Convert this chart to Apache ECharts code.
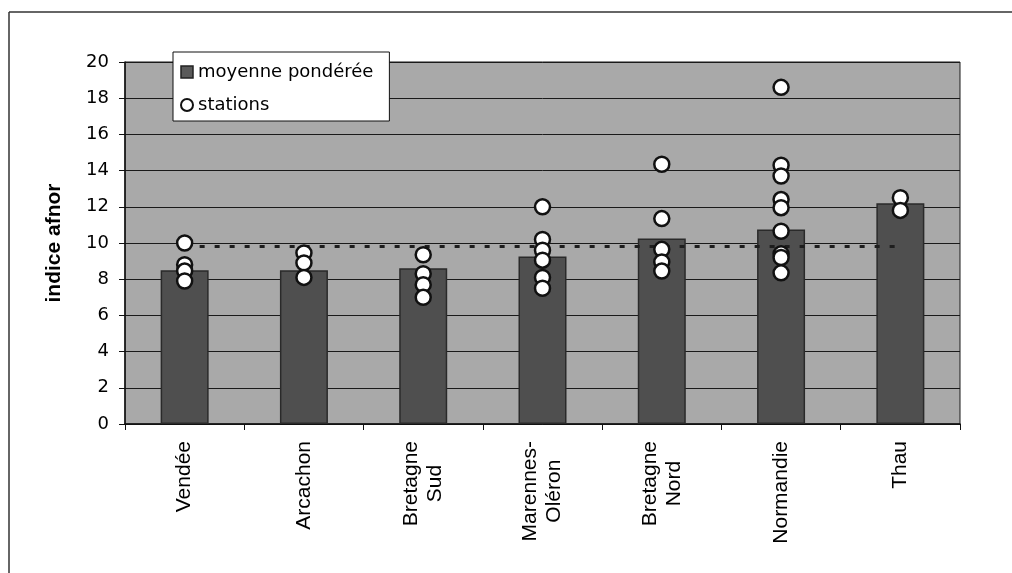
<!DOCTYPE html>
<html>
<head>
<meta charset="utf-8">
<script src="https://cdn.jsdelivr.net/npm/echarts@6/dist/echarts.min.js"></script>
<style>
html,body{margin:0;padding:0;background:#fff;}
#chart{width:1012px;height:573px;}
</style>
</head>
<body>
<div id="chart"></div>
<script>
// ---- data ----
const categories = ['Vendée', 'Arcachon', 'Bretagne\nSud', 'Marennes-\nOléron', 'Bretagne\nNord', 'Normandie', 'Thau'];
const yTicks = [0, 2, 4, 6, 8, 10, 12, 14, 16, 18, 20];
const moyennePonderee = [8.5, 8.5, 8.6, 9.25, 10.25, 10.75, 12.2];
const referenceLine = [9.8, 9.8, 9.8, 9.8, 9.8, 9.8, 9.8];
const stVendee = [10.0, 8.8, 8.45, 7.9];
const stArcachon = [9.45, 8.9, 8.1];
const stBretagneSud = [9.35, 8.3, 7.7, 7.0];
const stMarennes = [12.0, 10.2, 9.6, 9.05, 8.1, 7.5];
const stBretagneNord = [14.35, 11.35, 9.65, 8.95, 8.45];
const stNormandie = [18.6, 14.3, 13.7, 12.4, 11.95, 10.65, 9.4, 9.2, 8.35];
const stThau = [12.5, 11.8];

const stationGroups = [stVendee, stArcachon, stBretagneSud, stMarennes, stBretagneNord, stNormandie, stThau];
const stationData = [];
stationGroups.forEach((g, i) => g.forEach(v => stationData.push([categories[i], v])));

const chart = echarts.init(document.getElementById('chart'), null, {renderer: 'canvas'});
chart.setOption({
  backgroundColor: '#ffffff',
  animation: false,
  grid: {
    left: 125, right: 52, top: 62, bottom: 149,
    show: true, backgroundColor: '#a9a9a9', borderColor: '#1a1a1a', borderWidth: 1
  },
  legend: {
    left: 173, top: 52, orient: 'vertical',
    backgroundColor: '#ffffff', borderColor: '#111', borderWidth: 1,
    padding: [11, 16, 7, 7], itemGap: 15, itemWidth: 12, itemHeight: 12,
    textStyle: {fontFamily: 'DejaVu Sans', fontSize: 18, color: '#000'},
    data: [
      {name: 'moyenne pondérée', icon: 'rect', itemStyle: {color: '#5a5a5a', borderColor: '#222', borderWidth: 1.5}},
      {name: 'stations', icon: 'circle', itemStyle: {color: '#fff', borderColor: '#111', borderWidth: 2}}
    ]
  },
  xAxis: {
    type: 'category', data: categories, boundaryGap: true,
    axisLine: {lineStyle: {color: '#111', width: 1.5}},
    axisTick: {show: true, length: 6, lineStyle: {color: '#111'}},
    axisLabel: {
      rotate: 90, margin: 17, color: '#000', fontFamily: 'Liberation Sans', fontSize: 21, lineHeight: 24,
      formatter: v => v.indexOf('\n') >= 0 ? v.split('\n').map(s => '{c|' + s + '}').join('\n') : v,
      rich: {c: {align: 'center', fontFamily: 'Liberation Sans', fontSize: 21, lineHeight: 24, color: '#000'}}
    },
    splitLine: {show: false}
  },
  yAxis: {
    type: 'value', min: yTicks[0], max: yTicks[yTicks.length - 1], interval: 2,
    name: 'indice afnor', nameLocation: 'middle', nameRotate: 90, nameGap: 60,
    nameTextStyle: {fontFamily: 'Liberation Sans', fontWeight: 'bold', fontSize: 21, color: '#000'},
    axisLine: {show: true, lineStyle: {color: '#111', width: 1.5}},
    axisTick: {show: true, length: 6, lineStyle: {color: '#111'}},
    axisLabel: {margin: 16, color: '#000', fontFamily: 'DejaVu Sans', fontSize: 18},
    splitLine: {show: true, lineStyle: {color: '#1a1a1a', width: 1}}
  },
  series: [
    {
      name: 'moyenne pondérée', type: 'bar', data: moyennePonderee, barWidth: 48,
      itemStyle: {color: '#4f4f4f', borderColor: '#2a2a2a', borderWidth: 1.5}, z: 2
    },
    {
      name: 'référence', type: 'line', data: referenceLine, symbol: 'none',
      lineStyle: {color: '#1e1e1e', width: 3, type: [5, 10]}, z: 3, silent: true
    },
    {
      name: 'stations', type: 'scatter', data: stationData, symbol: 'circle', symbolSize: 15,
      itemStyle: {color: '#ffffff', borderColor: '#111', borderWidth: 2.5, opacity: 1}, z: 4
    }
  ],
  graphic: [
    {type: 'line', shape: {x1: 9, y1: 12, x2: 1012, y2: 12}, style: {stroke: '#333', lineWidth: 1.5}},
    {type: 'line', shape: {x1: 9, y1: 12, x2: 9, y2: 573}, style: {stroke: '#333', lineWidth: 1.5}}
  ]
});
</script>
</body>
</html>
